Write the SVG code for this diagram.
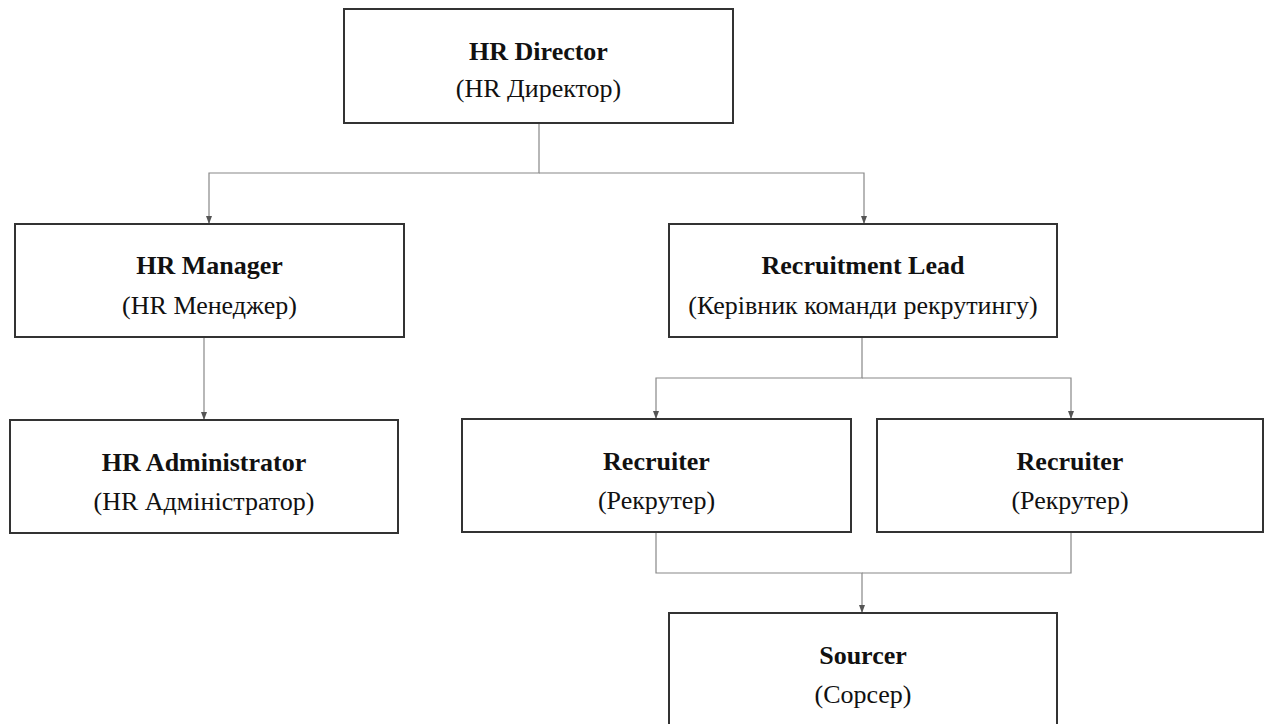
<svg xmlns="http://www.w3.org/2000/svg" width="1264" height="724" viewBox="0 0 1264 724">
<style>
.box{fill:#fff;stroke:#333;stroke-width:2}
.t1{font-family:"Liberation Serif","Times New Roman",serif;font-size:26px;font-weight:bold;fill:#111;text-anchor:middle}
.t2{font-family:"Liberation Serif","Times New Roman",serif;font-size:26px;fill:#111;text-anchor:middle}
.c{fill:none;stroke:#888;stroke-width:1.2}
</style>
<defs>
<marker id="ah" markerWidth="8" markerHeight="6" refX="7" refY="3" orient="auto" markerUnits="userSpaceOnUse">
<path d="M0,0 L8,3 L0,6 Z" fill="#555"/>
</marker>
</defs>
<rect width="1264" height="724" fill="#fff"/>
<g id="connectors">
<path class="c" d="M539,123 V173 H209 V223" marker-end="url(#ah)"/>
<path class="c" d="M539,173 H864 V223" marker-end="url(#ah)"/>
<path class="c" d="M204,337 V419" marker-end="url(#ah)"/>
<path class="c" d="M862,337 V378 H656 V418" marker-end="url(#ah)"/>
<path class="c" d="M862,378 H1071 V418" marker-end="url(#ah)"/>
<path class="c" d="M656,532 V573 H862 V612" marker-end="url(#ah)"/>
<path class="c" d="M1071,532 V573 H862"/>
</g>
<g id="hr-director">
<rect class="box" x="344" y="9" width="389" height="114"/>
<text class="t1" x="538.5" y="60">HR Director</text>
<text class="t2" x="538.5" y="97">(HR Директор)</text>
</g>
<g id="hr-manager">
<rect class="box" x="15" y="224" width="389" height="113"/>
<text class="t1" x="209.5" y="274">HR Manager</text>
<text class="t2" x="209.5" y="314">(HR Менеджер)</text>
</g>
<g id="recruitment-lead">
<rect class="box" x="669" y="224" width="388" height="113"/>
<text class="t1" x="863" y="274">Recruitment Lead</text>
<text class="t2" x="863" y="314">(Керівник команди рекрутингу)</text>
</g>
<g id="hr-administrator">
<rect class="box" x="10" y="420" width="388" height="113"/>
<text class="t1" x="204" y="471">HR Administrator</text>
<text class="t2" x="204" y="510">(HR Адміністратор)</text>
</g>
<g id="recruiter-1">
<rect class="box" x="462" y="419" width="389" height="113"/>
<text class="t1" x="656.5" y="470">Recruiter</text>
<text class="t2" x="656.5" y="509">(Рекрутер)</text>
</g>
<g id="recruiter-2">
<rect class="box" x="877" y="419" width="386" height="113"/>
<text class="t1" x="1070" y="470">Recruiter</text>
<text class="t2" x="1070" y="509">(Рекрутер)</text>
</g>
<g id="sourcer">
<rect class="box" x="669" y="613" width="388" height="130"/>
<text class="t1" x="863" y="664">Sourcer</text>
<text class="t2" x="863" y="703">(Сорсер)</text>
</g>
</svg>
